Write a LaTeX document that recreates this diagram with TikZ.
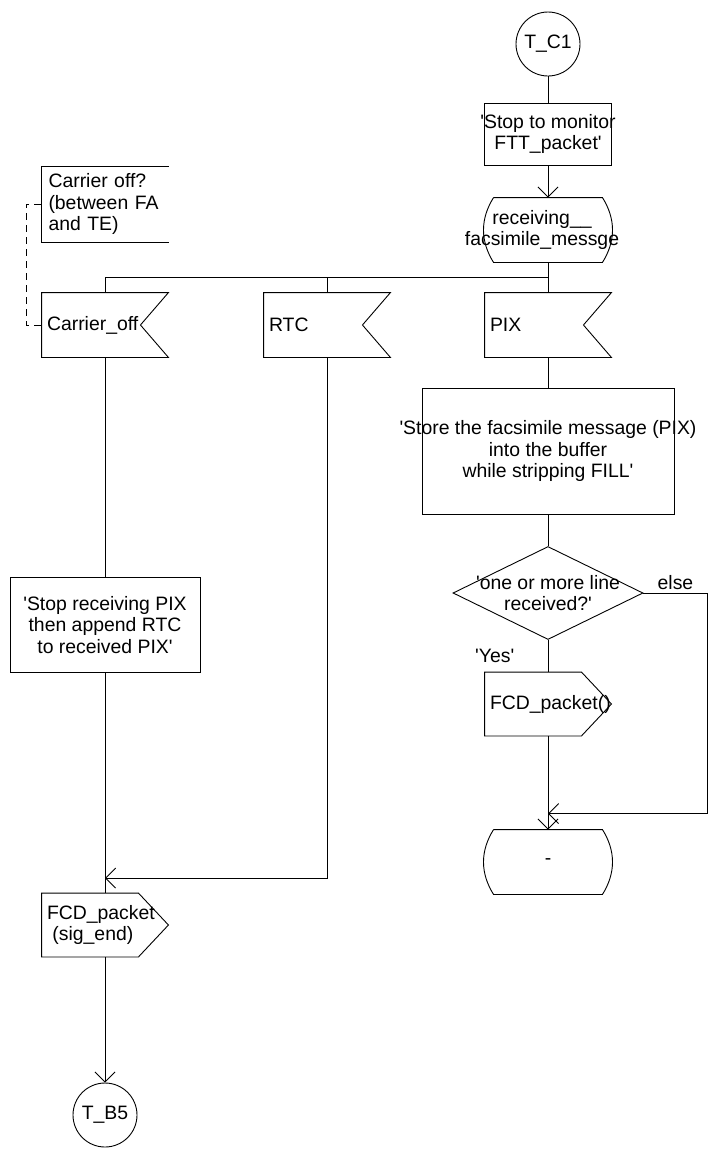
\documentclass[tikz,border=0pt]{standalone}
\usepackage{fontspec}
\setmainfont{Liberation Sans}[Ligatures=TeXOff]
\usetikzlibrary{arrows.meta,shapes.geometric}

\begin{document}
\begin{tikzpicture}[x=1pt,y=1pt,>={Straight Barb[length=10pt,width=20pt]},
	line width=0.9pt,font=\fontsize{19.4}{21.5}\selectfont,
	conn/.style={circle,draw,minimum size=64pt,inner sep=0pt},
	task/.style={rectangle,draw,inner sep=0pt},
	cond/.style={diamond,draw,inner sep=0pt},
	sdlstate/.style={rectangle,minimum width=128pt,minimum height=64pt,inner sep=0pt},
	sdlin/.style={rectangle,minimum width=126pt,minimum height=64pt,inner sep=5pt,text width=116pt,align=left},
	sdlout/.style={rectangle,minimum width=126pt,minimum height=63pt,inner sep=5pt,text width=116pt,align=left},
	note/.style={rectangle,minimum width=127pt,minimum height=75pt,inner sep=7pt,text width=113pt,align=left},
	txt/.style={align=center}]
	\useasboundingbox (0,0) rectangle (708,-1149);

	% right column
	\node[conn](tc1) at (548,-44) {T\_C1};
	\node[task,minimum width=127pt,minimum height=62pt,label={[txt]center:{'Stop to monitor\\FTT\_packet'}}](stopmon)[node distance=90pt,below of=tc1]{};
	\node[sdlstate,label={[txt,xshift=-6pt]center:{receiving\_\_\\facsimile\_messge}}](recv)[node distance=96pt,below of=stopmon]{};
	\node[sdlin](pix)[node distance=95pt,below of=recv]{PIX};
	\node[task,minimum width=252pt,minimum height=126pt,label={[txt]center:{'Store the facsimile message (PIX)\\into the buffer\\while stripping FILL'}}](store)[node distance=126pt,below of=pix]{};
	\node[cond,minimum width=190pt,minimum height=93pt,label={[txt]center:{'one or more line\\received?'}}](dec)[node distance=142pt,below of=store]{};
	\node[sdlout](fcdout)[node distance=111pt,below of=dec]{FCD\_packet()};
	\node[sdlstate](dash)[node distance=158pt,below of=fcdout]{-};

	% left columns
	\node[sdlin](rtc)[node distance=221pt,left of=pix]{RTC};
	\node[sdlin](carrier)[node distance=443pt,left of=pix]{Carrier\_off};
	\node[note](cmt)[node distance=121pt,above of=carrier]{Carrier off?\\(between FA\\and TE)};
	\node[task,minimum width=190pt,minimum height=95pt,align=center](stoprecv)[node distance=300pt,below of=carrier]{'Stop receiving PIX\\then append RTC\\to received PIX'};
	\node[sdlout](fcdsig)[node distance=300pt,below of=stoprecv]{FCD\_packet\\\hspace*{0.28em}(sig\_end)};
	\node[conn](tb5)[node distance=190pt,below of=fcdsig]{T\_B5};

	% outlines
	\foreach \n in {carrier,rtc,pix}
		\draw (\n.north west) -- (\n.north east) -- ([xshift=-28pt]\n.east) -- (\n.south east) -- (\n.south west) -- cycle;
	\foreach \n in {fcdout,fcdsig}
		\draw (\n.north west) -- ([xshift=-30pt]\n.north east) -- (\n.east) -- ([xshift=-30pt]\n.south east) -- (\n.south west) -- cycle;
	\foreach \n in {recv,dash}
		\draw ([xshift=10pt]\n.north west) -- ([xshift=-10pt]\n.north east) to[bend left=32] ([xshift=-10pt]\n.south east)
			-- ([xshift=10pt]\n.south west) to[bend left=32] ([xshift=10pt]\n.north west);
	\draw (cmt.north east) -- (cmt.north west) -- (cmt.south west) -- (cmt.south east);

	% flow
	\draw (tc1) -- (stopmon);
	\draw[->] (stopmon) -- (recv);
	\coordinate (fork) at ([yshift=-15pt]recv.south);
	\draw (recv.south) -- (fork) -| (carrier.north);
	\draw (fork -| rtc.north) -- (rtc.north);
	\draw (fork) -- (pix.north);
	\draw (pix) -- (store);
	\draw (store) -- (dec);
	\draw (dec) -- node[left=30pt]{'Yes'} (fcdout);
	\coordinate (elsejoin) at ([yshift=16pt]dash.north);
	\draw[->] (fcdout) -- (dash);
	\draw[->] (dec.east) -- node[above]{else} ++(64pt,0) |- (elsejoin);

	\draw (carrier) -- (stoprecv);
	\coordinate (rtcjoin) at ([yshift=15pt]fcdsig.north);
	\draw (stoprecv) -- (fcdsig);
	\draw[->] (rtc) |- (rtcjoin);
	\draw[->] (fcdsig) -- (tb5);
	\draw[dash pattern=on 7pt off 5pt] (cmt.west) -- ++(-15pt,0) |- (carrier.west);
\end{tikzpicture}
\end{document}
